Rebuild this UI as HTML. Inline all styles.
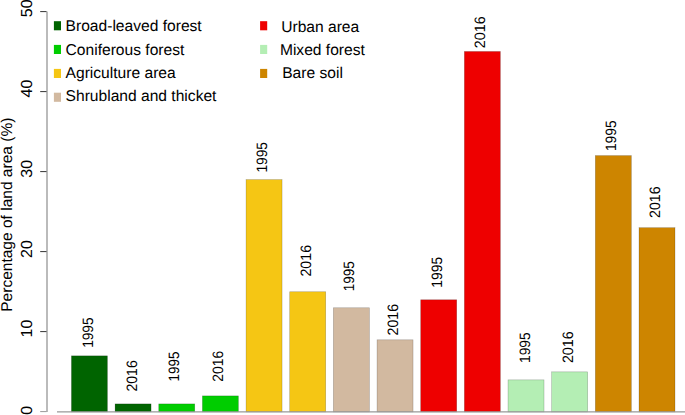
<!DOCTYPE html><html><head><meta charset="utf-8"><style>html,body{margin:0;padding:0;background:#fff;overflow:hidden}svg{display:block}text{font-family:"Liberation Sans",sans-serif;text-rendering:geometricPrecision}</style></head><body>
<svg width="685" height="415" viewBox="0 0 685 415">
<rect x="71.42" y="355.83" width="36.0" height="56.07" fill="#006400" stroke="#000" stroke-opacity="0.28" stroke-width="0.6"/>
<rect x="115.08" y="403.89" width="36.0" height="8.01" fill="#006400" stroke="#000" stroke-opacity="0.28" stroke-width="0.6"/>
<rect x="158.74" y="403.89" width="36.0" height="8.01" fill="#00cd00" stroke="#000" stroke-opacity="0.28" stroke-width="0.6"/>
<rect x="202.40" y="395.88" width="36.0" height="16.02" fill="#00cd00" stroke="#000" stroke-opacity="0.28" stroke-width="0.6"/>
<rect x="246.06" y="179.61" width="36.0" height="232.29" fill="#f5c614" stroke="#000" stroke-opacity="0.28" stroke-width="0.6"/>
<rect x="289.72" y="291.75" width="36.0" height="120.15" fill="#f5c614" stroke="#000" stroke-opacity="0.28" stroke-width="0.6"/>
<rect x="333.38" y="307.77" width="36.0" height="104.13" fill="#d2b9a0" stroke="#000" stroke-opacity="0.28" stroke-width="0.6"/>
<rect x="377.04" y="339.81" width="36.0" height="72.09" fill="#d2b9a0" stroke="#000" stroke-opacity="0.28" stroke-width="0.6"/>
<rect x="420.70" y="299.76" width="36.0" height="112.14" fill="#ee0000" stroke="#000" stroke-opacity="0.28" stroke-width="0.6"/>
<rect x="464.36" y="51.45" width="36.0" height="360.45" fill="#ee0000" stroke="#000" stroke-opacity="0.28" stroke-width="0.6"/>
<rect x="508.02" y="379.86" width="36.0" height="32.04" fill="#b4eeb4" stroke="#000" stroke-opacity="0.28" stroke-width="0.6"/>
<rect x="551.68" y="371.85" width="36.0" height="40.05" fill="#b4eeb4" stroke="#000" stroke-opacity="0.28" stroke-width="0.6"/>
<rect x="595.34" y="155.58" width="36.0" height="256.32" fill="#cd8500" stroke="#000" stroke-opacity="0.28" stroke-width="0.6"/>
<rect x="639.00" y="227.67" width="36.0" height="184.23" fill="#cd8500" stroke="#000" stroke-opacity="0.28" stroke-width="0.6"/>
<line x1="57" y1="411.9" x2="685" y2="411.9" stroke="#999" stroke-width="1.2"/>
<line x1="47" y1="11.6" x2="47" y2="412" stroke="#aaa" stroke-width="1.6"/>
<line x1="40.2" y1="411.60" x2="46.5" y2="411.60" stroke="#999" stroke-width="1"/>
<line x1="40.2" y1="331.60" x2="46.5" y2="331.60" stroke="#333" stroke-width="1"/>
<line x1="40.2" y1="251.60" x2="46.5" y2="251.60" stroke="#333" stroke-width="1"/>
<line x1="40.2" y1="171.60" x2="46.5" y2="171.60" stroke="#333" stroke-width="1"/>
<line x1="40.2" y1="91.60" x2="46.5" y2="91.60" stroke="#333" stroke-width="1"/>
<line x1="40.2" y1="11.60" x2="46.5" y2="11.60" stroke="#333" stroke-width="1"/>
<text transform="translate(32.16,414.82) rotate(-90) scale(1.0000,1)" font-size="16" fill="#000">0</text>
<text transform="translate(32.01,337.52) rotate(-90) scale(1.0000,1)" font-size="16" fill="#000">10</text>
<text transform="translate(32.01,257.90) rotate(-90) scale(1.0000,1)" font-size="16" fill="#000">20</text>
<text transform="translate(32.16,177.71) rotate(-90) scale(1.0000,1)" font-size="16" fill="#000">30</text>
<text transform="translate(32.01,97.47) rotate(-90) scale(1.0000,1)" font-size="16" fill="#000">40</text>
<text transform="translate(32.11,17.24) rotate(-90) scale(1.0000,1)" font-size="16" fill="#000">50</text>
<text transform="translate(12.48,311.77) rotate(-90) scale(0.9955,1)" font-size="15.6" fill="#000">Percentage of land area (%)</text>
<text transform="translate(93.11,347.84) rotate(-90) scale(0.9115,1)" font-size="15" fill="#000">1995</text>
<text transform="translate(137.26,391.51) rotate(-90) scale(0.9357,1)" font-size="15" fill="#000">2016</text>
<text transform="translate(179.46,381.42) rotate(-90) scale(0.8925,1)" font-size="15" fill="#000">1995</text>
<text transform="translate(223.16,381.70) rotate(-90) scale(0.9263,1)" font-size="15" fill="#000">2016</text>
<text transform="translate(267.36,172.54) rotate(-90) scale(0.9115,1)" font-size="15" fill="#000">1995</text>
<text transform="translate(311.46,276.62) rotate(-90) scale(0.9513,1)" font-size="15" fill="#000">2016</text>
<text transform="translate(354.36,291.33) rotate(-90) scale(0.9020,1)" font-size="15" fill="#000">1995</text>
<text transform="translate(397.91,335.41) rotate(-90) scale(0.9419,1)" font-size="15" fill="#000">2016</text>
<text transform="translate(441.91,287.65) rotate(-90) scale(0.9210,1)" font-size="15" fill="#000">1995</text>
<text transform="translate(485.46,48.22) rotate(-90) scale(0.9576,1)" font-size="15" fill="#000">2016</text>
<text transform="translate(530.01,362.95) rotate(-90) scale(0.9147,1)" font-size="15" fill="#000">1995</text>
<text transform="translate(573.11,363.12) rotate(-90) scale(0.9576,1)" font-size="15" fill="#000">2016</text>
<text transform="translate(616.41,151.05) rotate(-90) scale(0.9178,1)" font-size="15" fill="#000">1995</text>
<text transform="translate(659.91,217.91) rotate(-90) scale(0.9451,1)" font-size="15" fill="#000">2016</text>
<rect x="53.9" y="21.2" width="7.1" height="9.1" fill="#006400"/>
<text x="65.60" y="30.8" font-size="15.6" fill="#000">Broad-leaved forest</text>
<rect x="53.9" y="44.9" width="7.1" height="9.1" fill="#00cd00"/>
<text x="65.60" y="54.6" font-size="15.6" fill="#000">Coniferous forest</text>
<rect x="53.9" y="68.9" width="7.1" height="9.1" fill="#f5c614"/>
<text x="65.60" y="77.8" font-size="15.6" fill="#000">Agriculture area</text>
<rect x="53.9" y="92.7" width="7.1" height="9.1" fill="#d2b9a0"/>
<text x="65.60" y="101.1" font-size="15.6" fill="#000">Shrubland and thicket</text>
<rect x="260.1" y="21.2" width="7.1" height="9.1" fill="#ee0000"/>
<text x="281.20" y="31.7" font-size="15.6" fill="#000">Urban area</text>
<rect x="260.1" y="44.9" width="7.1" height="9.1" fill="#b4eeb4"/>
<text x="279.92" y="55.0" font-size="15.6" fill="#000">Mixed forest</text>
<rect x="260.1" y="68.9" width="7.1" height="9.1" fill="#cd8500"/>
<text x="282.22" y="77.6" font-size="15.6" fill="#000">Bare soil</text>
</svg></body></html>
